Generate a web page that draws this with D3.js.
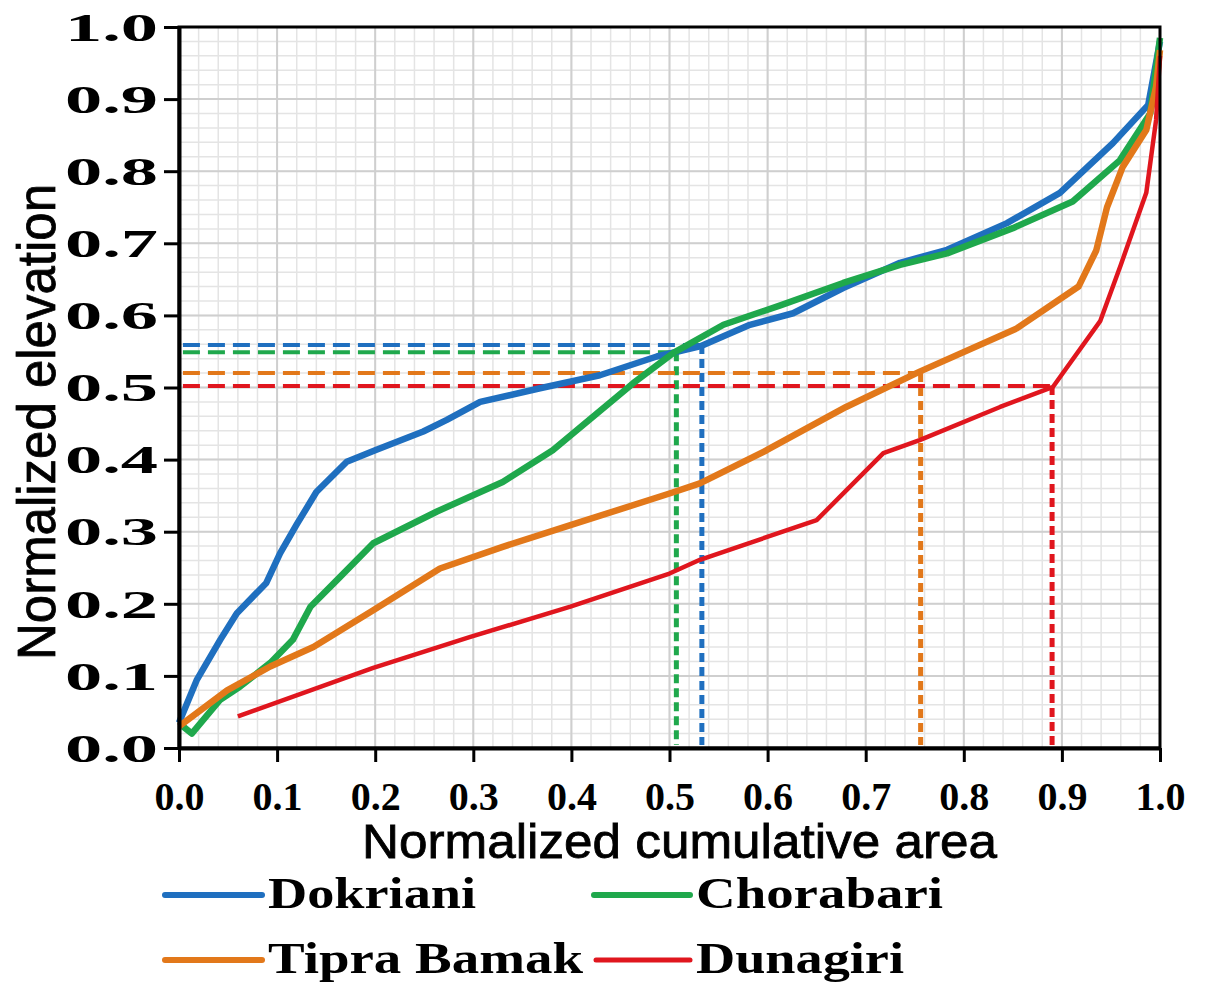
<!DOCTYPE html>
<html>
<head>
<meta charset="utf-8">
<script src="https://cdn.jsdelivr.net/npm/d3@7"></script>
<style>
  body { margin: 0; background: #fff; }
</style>
</head>
<body>
<svg id="canvas"></svg>
<script>
// hypsometric curves, values
const seriesNames = ["Dokriani", "Chorabari", "Tipra Bamak", "Dunagiri"];
const seriesColors = ["#1f6fbf", "#1fa84c", "#e2781a", "#e0161e"];

const dokrianiX = [0, 0.018, 0.042, 0.059, 0.089, 0.103, 0.12, 0.14, 0.171, 0.2, 0.249, 0.273, 0.307, 0.368, 0.429, 0.487, 0.531, 0.555, 0.582, 0.626, 0.677, 0.735, 0.783, 0.844, 0.898, 0.952, 0.988, 1.0];
const dokrianiY = [0.035, 0.094, 0.15, 0.187, 0.229, 0.27, 0.31, 0.355, 0.397, 0.413, 0.439, 0.455, 0.48, 0.499, 0.517, 0.543, 0.557, 0.571, 0.587, 0.603, 0.638, 0.673, 0.691, 0.728, 0.77, 0.839, 0.892, 0.98];

const chorabariX = [0.004, 0.013, 0.042, 0.062, 0.093, 0.116, 0.134, 0.164, 0.198, 0.263, 0.33, 0.381, 0.463, 0.504, 0.555, 0.613, 0.677, 0.735, 0.783, 0.85, 0.911, 0.959, 0.99, 1.0];
const chorabariY = [0.03, 0.02, 0.067, 0.085, 0.118, 0.15, 0.196, 0.237, 0.284, 0.328, 0.369, 0.413, 0.506, 0.548, 0.587, 0.614, 0.645, 0.67, 0.686, 0.721, 0.758, 0.815, 0.88, 0.985];

const tipraX = [0.0, 0.049, 0.093, 0.137, 0.198, 0.266, 0.33, 0.399, 0.5, 0.531, 0.599, 0.68, 0.755, 0.854, 0.917, 0.935, 0.946, 0.962, 0.986, 0.996, 1.0];
const tipraY = [0.03, 0.08, 0.113, 0.14, 0.191, 0.249, 0.279, 0.309, 0.353, 0.367, 0.413, 0.473, 0.522, 0.582, 0.64, 0.69, 0.75, 0.806, 0.857, 0.917, 0.968];

const dunagiriX = [0.06, 0.198, 0.297, 0.399, 0.5, 0.531, 0.65, 0.718, 0.755, 0.837, 0.891, 0.939, 0.96, 0.986, 0.996, 1.0];
const dunagiriY = [0.044, 0.111, 0.154, 0.196, 0.242, 0.261, 0.316, 0.409, 0.427, 0.473, 0.501, 0.592, 0.67, 0.77, 0.871, 0.96];

// hypsometric integral guide lines (dashed)
const refX = [0.533, 0.507, 0.756, 0.89];
const refY = [0.559, 0.549, 0.52, 0.502];

const tickValues = [0, 0.1, 0.2, 0.3, 0.4, 0.5, 0.6, 0.7, 0.8, 0.9, 1.0];

const width = 1207;
const height = 983;

let canvas = d3.select("#canvas").attr("width", width).attr("height", height);

const xScale = d3.scaleLinear().domain([0, 1]).range([179, 1160]);
const yScale = d3.scaleLinear().domain([0, 1]).range([748, 27]);

let seriesX = [dokrianiX, chorabariX, tipraX, dunagiriX];
let seriesY = [dokrianiY, chorabariY, tipraY, dunagiriY];
let series = seriesNames.map((name, i) => ({
  name: name,
  color: seriesColors[i],
  points: seriesX[i].map((x, j) => [x, seriesY[i][j]])
}));

// grid
let minor = d3.range(0, 51).map((i) => i * 0.02);
let grid = canvas.append("g");
grid.selectAll(".minor-x").data(minor).enter().append("line")
  .attr("x1", (d) => xScale(d)).attr("x2", (d) => xScale(d))
  .attr("y1", yScale(0)).attr("y2", yScale(1))
  .attr("stroke", "#e4e4e4").attr("stroke-width", 1.5);
grid.selectAll(".minor-y").data(minor).enter().append("line")
  .attr("y1", (d) => yScale(d)).attr("y2", (d) => yScale(d))
  .attr("x1", xScale(0)).attr("x2", xScale(1))
  .attr("stroke", "#e4e4e4").attr("stroke-width", 1.5);
grid.selectAll(".major-x").data(tickValues).enter().append("line")
  .attr("x1", (d) => xScale(d)).attr("x2", (d) => xScale(d))
  .attr("y1", yScale(0)).attr("y2", yScale(1))
  .attr("stroke", "#cfcfcf").attr("stroke-width", 2);
grid.selectAll(".major-y").data(tickValues).enter().append("line")
  .attr("y1", (d) => yScale(d)).attr("y2", (d) => yScale(d))
  .attr("x1", xScale(0)).attr("x2", xScale(1))
  .attr("stroke", "#cfcfcf").attr("stroke-width", 2);

// dashed guides
let guides = canvas.append("g");
series.forEach((s, i) => {
  guides.append("line")
    .attr("x1", xScale(0.004)).attr("x2", xScale(refX[i]))
    .attr("y1", yScale(refY[i])).attr("y2", yScale(refY[i]))
    .attr("stroke", s.color).attr("stroke-width", 4)
    .attr("stroke-dasharray", "17,8");
  guides.append("line")
    .attr("x1", xScale(refX[i])).attr("x2", xScale(refX[i]))
    .attr("y1", yScale(refY[i])).attr("y2", yScale(0.004))
    .attr("stroke", s.color).attr("stroke-width", 5)
    .attr("stroke-dasharray", "9,5");
});

// curves
let line = d3.line().x((d) => xScale(d[0])).y((d) => yScale(d[1]));
canvas.append("g").selectAll("path").data(series).enter().append("path")
  .attr("d", (s) => line(s.points))
  .attr("fill", "none")
  .attr("stroke", (s) => s.color)
  .attr("stroke-width", (s) => s.name === "Dunagiri" ? 4.5 : 6.5)
  .attr("stroke-linejoin", "round");

// frame
canvas.append("rect")
  .attr("x", xScale(0)).attr("y", yScale(1))
  .attr("width", xScale(1) - xScale(0)).attr("height", yScale(0) - yScale(1))
  .attr("fill", "none").attr("stroke", "#000").attr("stroke-width", 3);

// axes
let fmt = d3.format(".1f");
let xAxis = canvas.append("g")
  .attr("transform", "translate(0," + yScale(0) + ")")
  .call(d3.axisBottom(xScale).tickValues(tickValues).tickFormat(fmt).tickSize(14).tickSizeOuter(0));
xAxis.select(".domain").attr("stroke-width", 4);
xAxis.selectAll(".tick line").attr("stroke-width", 3);
xAxis.selectAll(".tick text")
  .attr("y", 34).attr("dy", "0.71em")
  .attr("font-family", "'Liberation Serif', 'Times New Roman', serif")
  .attr("font-weight", "bold").attr("font-size", 40).attr("fill", "#000");

let yAxis = canvas.append("g")
  .attr("transform", "translate(" + xScale(0) + ",0)")
  .call(d3.axisLeft(yScale).tickValues(tickValues).tickFormat(fmt).tickSize(15).tickSizeOuter(0));
yAxis.select(".domain").attr("stroke-width", 4);
yAxis.selectAll(".tick line").attr("stroke-width", 3);
yAxis.selectAll(".tick text")
  .attr("text-anchor", "start").attr("x", -114).attr("dy", "0.33em")
  .attr("textLength", 93).attr("lengthAdjust", "spacingAndGlyphs")
  .attr("font-family", "'Liberation Serif', 'Times New Roman', serif")
  .attr("font-weight", "bold").attr("font-size", 40).attr("fill", "#000");

// axis titles
canvas.append("text")
  .attr("x", 362).attr("y", 858)
  .attr("textLength", 635).attr("lengthAdjust", "spacingAndGlyphs")
  .attr("font-family", "'Liberation Sans', Arial, sans-serif")
  .attr("font-size", 48)
  .attr("stroke", "#000").attr("stroke-width", 0.8)
  .text("Normalized cumulative area");

canvas.append("text")
  .attr("transform", "translate(55,660) rotate(-90)")
  .attr("textLength", 476).attr("lengthAdjust", "spacingAndGlyphs")
  .attr("font-family", "'Liberation Sans', Arial, sans-serif")
  .attr("font-size", 53)
  .attr("stroke", "#000").attr("stroke-width", 0.8)
  .text("Normalized elevation");

// legend
const legendLineX = [165, 594, 165, 596];
const legendLineEnd = [262, 690, 262, 690];
const legendRowY = [895, 895, 960, 960];
const legendTextWidth = [208, 247, 315, 208];

let legend = canvas.append("g");
series.forEach((s, i) => {
  legend.append("line")
    .attr("x1", legendLineX[i]).attr("x2", legendLineEnd[i])
    .attr("y1", legendRowY[i]).attr("y2", legendRowY[i])
    .attr("stroke", s.color).attr("stroke-width", s.name === "Dunagiri" ? 5 : 6)
    .attr("stroke-linecap", "round");
  legend.append("text")
    .attr("x", legendLineEnd[i] + 6).attr("y", legendRowY[i] + 13)
    .attr("textLength", legendTextWidth[i]).attr("lengthAdjust", "spacingAndGlyphs")
    .attr("font-family", "'Liberation Serif', 'Times New Roman', serif")
    .attr("font-weight", "bold").attr("font-size", 45)
    .text(s.name);
});
</script>
</body>
</html>
